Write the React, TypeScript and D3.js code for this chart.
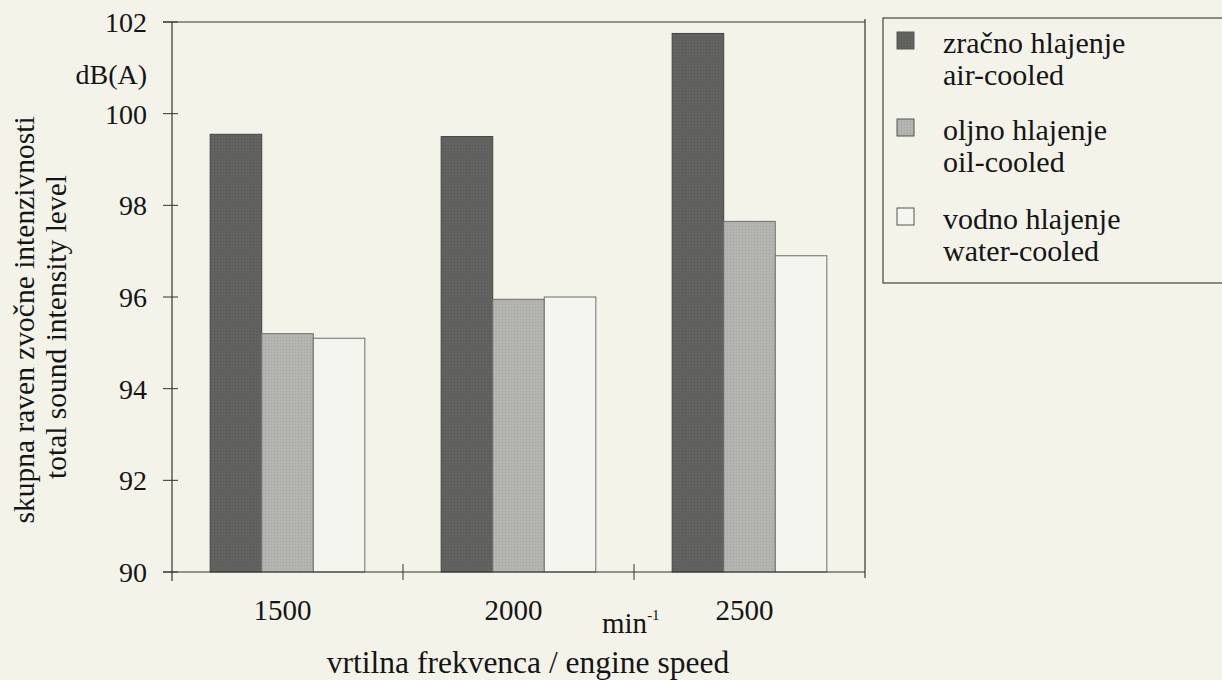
import { useEffect, useRef } from "react";
import * as d3 from "d3";

// engine speed categories (min^-1)
const speeds = ["1500", "2000", "2500"];
const seriesKeys = ["air", "oil", "water"];
const seriesLabels = [
  ["zračno hlajenje", "air-cooled"],
  ["oljno hlajenje", "oil-cooled"],
  ["vodno hlajenje", "water-cooled"],
];
// total sound intensity level dB(A)
const airCooled = [99.55, 99.5, 101.75];
const oilCooled = [95.2, 95.95, 97.65];
const waterCooled = [95.1, 96.0, 96.9];
const yTicks = [90, 92, 94, 96, 98, 100, 102];

const fills = ["#626260", "#b4b4b0", "#f5f5ef"];
const FONT = "'Liberation Serif', 'Times New Roman', Tinos, 'DejaVu Serif', serif";

const App = () => {
  const svgRef = useRef<SVGSVGElement>(null);
  const width = 1222;
  const height = 680;

  useEffect(() => {
    const svg = d3.select(svgRef.current);
    svg.selectAll("*").remove();

    const left = 172, right = 865, top = 22, bottom = 572;

    const y = d3.scaleLinear().domain([90, 102]).range([bottom, top]);
    const x = d3.scaleBand().domain(speeds).range([left, right]).padding(0);
    const xs = d3.scaleBand().domain(seriesKeys).range([0, x.bandwidth()])
      .paddingInner(0).paddingOuter(0.74);

    const values = [airCooled, oilCooled, waterCooled];

    // paper background
    svg.append("rect").attr("width", width).attr("height", height).attr("fill", "#f3f3ea");

    // stipple pattern for the scanned greys
    const defs = svg.append("defs");
    fills.forEach((c, i) => {
      const p = defs.append("pattern").attr("id", `dots${i}`)
        .attr("width", 3).attr("height", 3).attr("patternUnits", "userSpaceOnUse");
      p.append("rect").attr("width", 3).attr("height", 3).attr("fill", c);
      if (i < 2) {
        p.append("rect").attr("x", 1).attr("y", 1).attr("width", 1).attr("height", 1)
          .attr("fill", d3.color(c)!.darker(0.5).toString()).attr("opacity", 0.6);
      }
    });

    const g = svg.append("g");

    // bars
    seriesKeys.forEach((k, si) => {
      g.selectAll(`rect.s${si}`)
        .data(speeds)
        .enter()
        .append("rect")
        .attr("x", (d) => x(d)! + xs(k)!)
        .attr("y", (_, i) => y(values[si][i]))
        .attr("width", xs.bandwidth())
        .attr("height", (_, i) => y(90) - y(values[si][i]))
        .attr("fill", `url(#dots${si})`)
        .attr("stroke", si === 0 ? "#444" : "#6e6e6e")
        .attr("stroke-width", 1);
    });

    // frame
    const line = (x1: number, y1: number, x2: number, y2: number, w = 1.2) =>
      g.append("line").attr("x1", x1).attr("y1", y1).attr("x2", x2).attr("y2", y2)
        .attr("stroke", "#333").attr("stroke-width", w);

    line(163, top, right, top);
    line(left, top, left, bottom + 9);
    line(right, top - 3, right, bottom + 6);
    line(163, bottom, right, bottom);

    const txt = (sel: d3.Selection<SVGGElement, unknown, null, undefined>, size = 29) =>
      sel.append("text").style("font-family", FONT).style("font-size", `${size}px`).attr("fill", "#151515");

    // y ticks
    yTicks.forEach((t) => {
      line(left - 9, y(t), left + 6, y(t), 1);
      txt(g, 28).attr("x", 147).attr("y", y(t) + 10).attr("text-anchor", "end").text(t);
    });
    txt(g, 28).attr("x", 147).attr("y", 84).attr("text-anchor", "end").text("dB(A)");

    // x ticks
    speeds.forEach((s, i) => {
      if (i > 0) line(x(s)!, bottom - 8, x(s)!, bottom + 8, 1);
      txt(g).attr("x", x(s)! + x.bandwidth() / 2 - 5).attr("y", 620)
        .attr("text-anchor", "middle").text(s);
    });

    const unit = txt(g).attr("x", 602).attr("y", 633);
    unit.append("tspan").text("min");
    unit.append("tspan").style("font-size", "15px").attr("dy", -13).text("-1");

    txt(g, 31.5).attr("x", 528).attr("y", 673).attr("text-anchor", "middle")
      .text("vrtilna frekvenca / engine speed");

    // y title
    const yTitle = [
      { t: "skupna raven zvočne intenzivnosti", bx: 34, cy: 320 },
      { t: "total sound intensity level", bx: 66, cy: 327 },
    ];
    yTitle.forEach((d) => {
      txt(g, 29.5).attr("transform", `translate(${d.bx},${d.cy}) rotate(-90)`)
        .attr("text-anchor", "middle").text(d.t);
    });

    // legend
    const lg = svg.append("g");
    lg.append("rect").attr("x", 883).attr("y", 18).attr("width", 360).attr("height", 265)
      .attr("fill", "none").attr("stroke", "#444").attr("stroke-width", 1.2);
    const entryY = [40, 127, 216];
    seriesKeys.forEach((k, i) => {
      lg.append("rect").attr("x", 897).attr("y", entryY[i] - 8).attr("width", 17).attr("height", 17)
        .attr("fill", `url(#dots${i})`).attr("stroke", "#555").attr("stroke-width", 1);
      seriesLabels[i].forEach((lbl, j) => {
        txt(lg, 30).attr("x", 943).attr("y", entryY[i] + 13 + j * 32).text(lbl);
      });
    });
  }, []);

  return (
    <svg ref={svgRef} width={width} height={height}
      style={{ position: "absolute", left: 0, top: 0 }} />
  );
};

export default App;
